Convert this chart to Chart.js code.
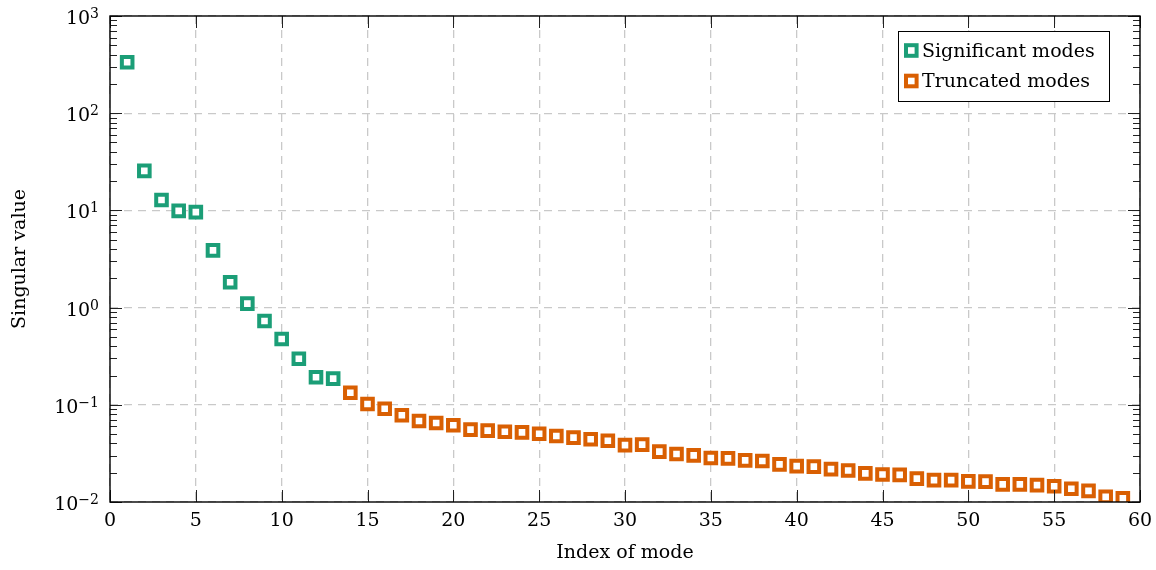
<!DOCTYPE html>
<html>
<head>
<meta charset="utf-8">
<script src="https://cdn.jsdelivr.net/npm/chart.js@4.4.1/dist/chart.umd.min.js"></script>
<style>
  html, body { margin: 0; padding: 0; background: #fff; }
  #wrap { width: 1156px; height: 570px; }
</style>
</head>
<body>
<div id="wrap"><canvas id="chart"></canvas></div>
<script>
// mode index / singular value
const sigIndex = [1,2,3,4,5,6,7,8,9,10,11,12,13];
const sigValues = [334,25.5,12.8,9.9,9.6,3.88,1.82,1.10,0.728,0.475,0.298,0.192,0.186];

const truncIndex = [14,15,16,17,18,19,20,21,22,23,24,25,26,27,28,29,30,31,32,33,34,35,36,
  37,38,39,40,41,42,43,44,45,46,47,48,49,50,51,52,53,54,55,56,57,58,59];
const truncValues = [0.133,0.102,0.0912,0.0782,0.0681,0.0650,0.0615,0.0555,0.0542,0.0529,0.0521,
  0.0504,0.0478,0.0459,0.0442,0.0427,0.0385,0.0389,0.0330,0.0312,0.0302,0.0284,0.0281,0.0268,
  0.0264,0.0244,0.0234,0.0231,0.0218,0.0211,0.0197,0.0192,0.0190,0.0174,0.0168,0.0168,0.0163,
  0.0162,0.0152,0.0152,0.0149,0.0145,0.0137,0.0130,0.0113,0.0109];

const yDecades = [0.01,0.1,1,10,100,1000];
const yExponents = ['\u22122','\u22121','0','1','2','3'];

const SERIF = '"DejaVu Serif", "Liberation Serif", serif';
const teal = '#1b9e77';
const orange = '#d95f02';

function toPoints(xs, ys) {
  return xs.map((x, i) => ({ x: x, y: ys[i] }));
}

// box, inward ticks, y labels with superscripts, legend
const decor = {
  id: 'decor',
  afterDraw(chart) {
    const ctx = chart.ctx;
    const a = chart.chartArea;
    const xs = chart.scales.x, ys = chart.scales.y;
    ctx.save();
    ctx.strokeStyle = '#222';
    ctx.lineWidth = 1;
    // minor y ticks
    ctx.beginPath();
    for (let d = -2; d < 3; d++) {
      for (let k = 2; k < 10; k++) {
        const py = Math.round(ys.getPixelForValue(k * Math.pow(10, d))) + 0.5;
        ctx.moveTo(a.left, py); ctx.lineTo(a.left + 7, py);
        ctx.moveTo(a.right, py); ctx.lineTo(a.right - 7, py);
      }
    }
    yDecades.forEach(v => {
      const py = Math.round(ys.getPixelForValue(v)) + 0.5;
      ctx.moveTo(a.left, py); ctx.lineTo(a.left + 12, py);
      ctx.moveTo(a.right, py); ctx.lineTo(a.right - 12, py);
    });
    xs.ticks.forEach(t => {
      const px = Math.round(xs.getPixelForValue(t.value)) + 0.5;
      ctx.moveTo(px, a.bottom); ctx.lineTo(px, a.bottom - 12);
      ctx.moveTo(px, a.top); ctx.lineTo(px, a.top + 12);
    });
    ctx.stroke();
    // frame
    ctx.lineWidth = 1.4;
    ctx.strokeStyle = '#000';
    ctx.strokeRect(a.left, a.top, a.right - a.left, a.bottom - a.top);

    // y tick labels 10^n
    ctx.fillStyle = '#000';
    yDecades.forEach((v, i) => {
      const py = ys.getPixelForValue(v);
      ctx.font = '14px ' + SERIF;
      ctx.textAlign = 'right';
      ctx.textBaseline = 'alphabetic';
      const ew = ctx.measureText(yExponents[i]).width;
      ctx.fillText(yExponents[i], 99, py + 2);
      ctx.font = '19px ' + SERIF;
      ctx.fillText('10', 99 - ew, py + 8);
    });

    // legend
    const lx = 898, ly = 31, lw = 211, lh = 70;
    ctx.fillStyle = '#fff';
    ctx.fillRect(lx, ly, lw, lh);
    ctx.lineWidth = 1;
    ctx.strokeStyle = '#000';
    ctx.strokeRect(lx + 0.5, ly + 0.5, lw, lh);
    chart.data.datasets.forEach((ds, i) => {
      const cy = ly + 19.5 + i * 30.5;
      const s = 10.6;
      ctx.lineWidth = 4;
      ctx.strokeStyle = ds.borderColor;
      ctx.fillStyle = '#fff';
      ctx.fillRect(911.3 - s / 2, cy - s / 2, s, s);
      ctx.strokeRect(911.3 - s / 2, cy - s / 2, s, s);
      ctx.fillStyle = '#000';
      ctx.font = '19px ' + SERIF;
      ctx.textAlign = 'left';
      ctx.textBaseline = 'alphabetic';
      ctx.fillText(ds.label, 922, cy + 6);
    });
    ctx.restore();
  }
};

new Chart(document.getElementById('chart'), {
  type: 'scatter',
  data: {
    datasets: [
      {
        label: 'Significant modes',
        data: toPoints(sigIndex, sigValues),
        pointStyle: 'rect',
        pointRadius: 7.5,
        pointHoverRadius: 7.5,
        borderWidth: 4,
        borderColor: teal,
        backgroundColor: '#fff'
      },
      {
        label: 'Truncated modes',
        data: toPoints(truncIndex, truncValues),
        pointStyle: 'rect',
        pointRadius: 7.5,
        pointHoverRadius: 7.5,
        borderWidth: 4,
        borderColor: orange,
        backgroundColor: '#fff'
      }
    ]
  },
  options: {
    responsive: true,
    maintainAspectRatio: false,
    animation: false,
    layout: { padding: { left: 0, right: 16, top: 16, bottom: 0 } },
    plugins: {
      legend: { display: false },
      tooltip: { enabled: false }
    },
    scales: {
      x: {
        type: 'linear',
        min: 0,
        max: 60,
        ticks: {
          stepSize: 5,
          color: '#000',
          padding: 8,
          font: { family: SERIF, size: 19 }
        },
        grid: { color: '#c9c9c9', lineWidth: 1.3, drawTicks: false },
        border: { display: false, dash: [8, 6] },
        title: {
          display: true,
          text: 'Index of mode',
          color: '#000',
          font: { family: SERIF, size: 19 },
          padding: { top: 0, bottom: 6 }
        },
        afterFit(scale) {
          scale.height = 68;
          scale.paddingLeft = 0;
          scale.paddingRight = 0;
        }
      },
      y: {
        type: 'logarithmic',
        min: 0.01,
        max: 1000,
        afterBuildTicks(scale) {
          scale.ticks = yDecades.map(v => ({ value: v }));
        },
        ticks: { display: false },
        grid: { color: '#c9c9c9', lineWidth: 1.3, drawTicks: false },
        border: { display: false, dash: [8, 6] },
        title: {
          display: true,
          text: 'Singular value',
          color: '#000',
          font: { family: SERIF, size: 19 },
          padding: { top: 9, bottom: 0 }
        },
        afterFit(scale) {
          scale.width = 110;
          scale.paddingTop = 0;
          scale.paddingBottom = 0;
        }
      }
    }
  },
  plugins: [decor]
});
</script>
</body>
</html>
